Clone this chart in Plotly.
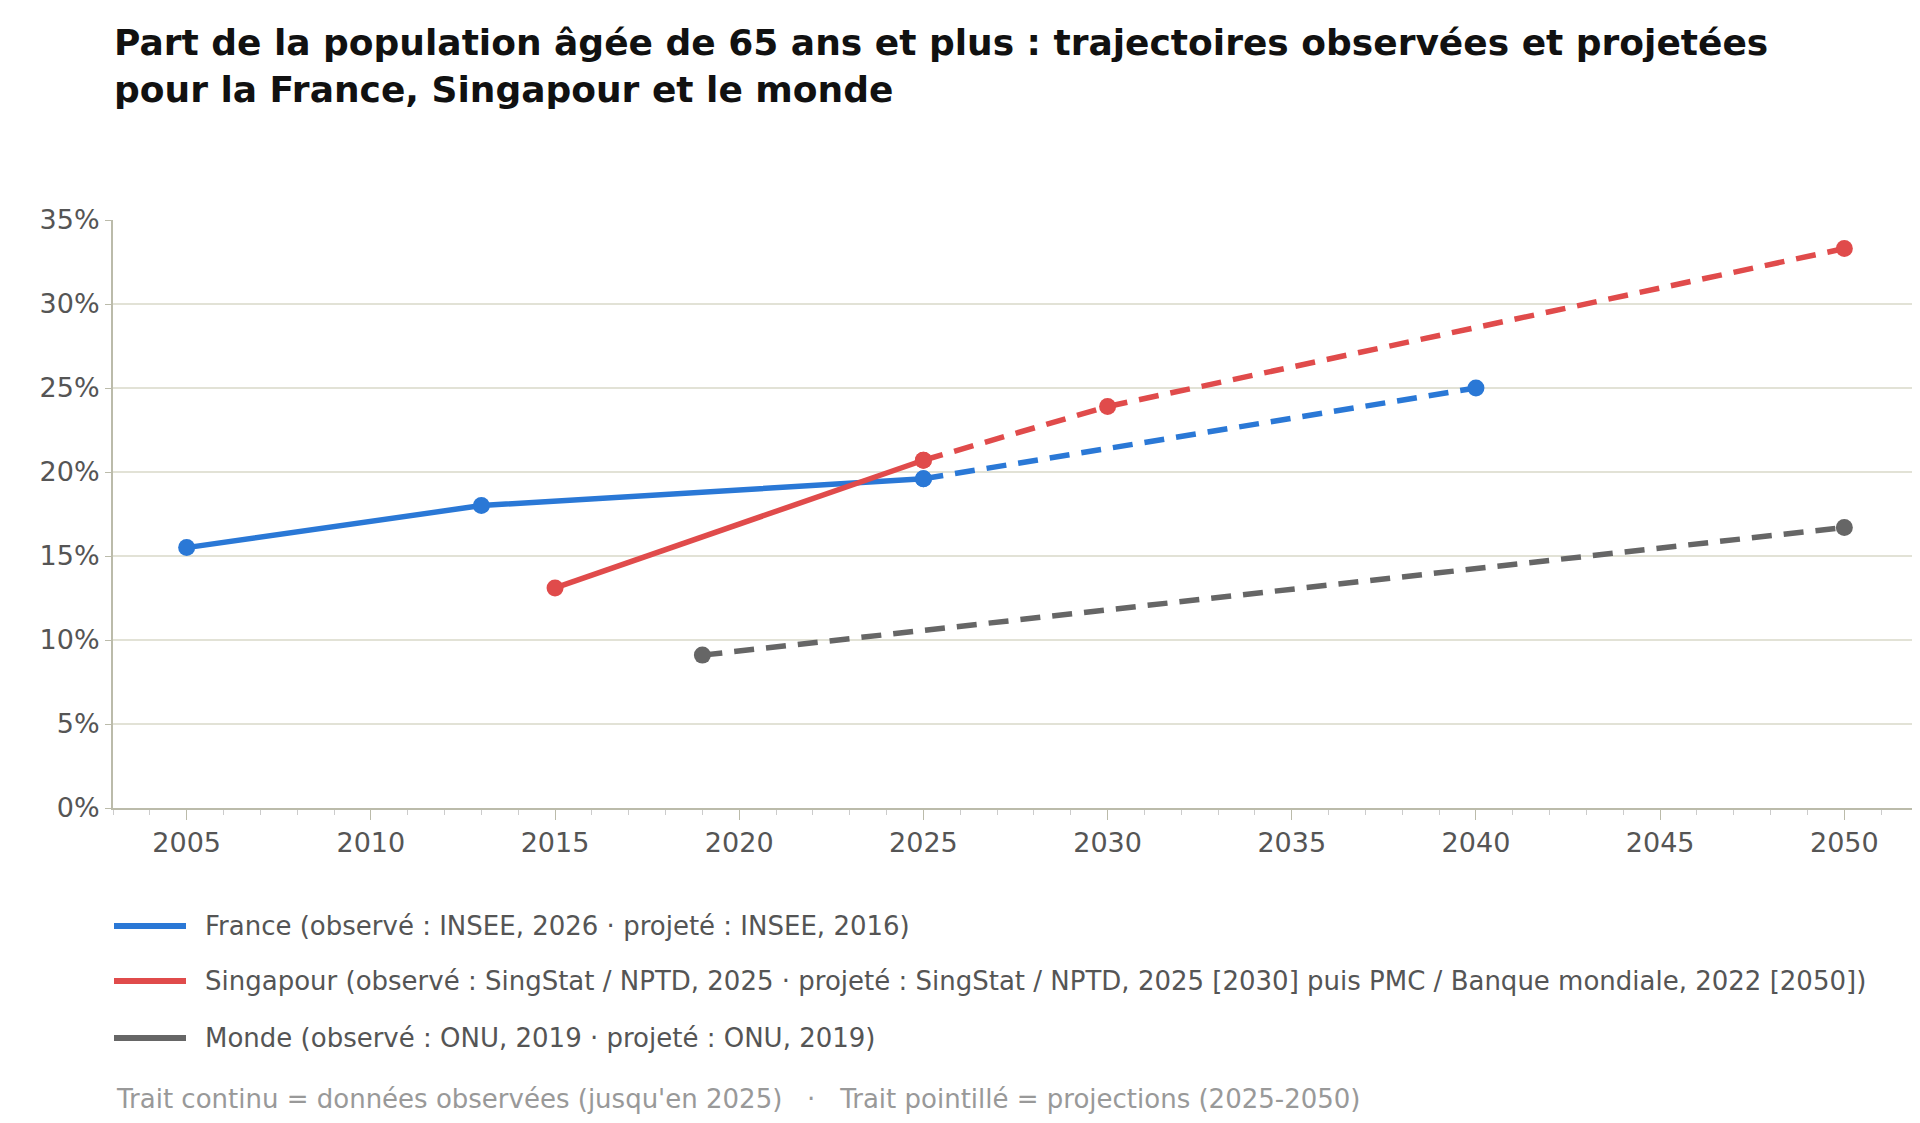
import plotly.graph_objects as go

fr_obs_x = [2005, 2013, 2025]; fr_obs_y = [15.5, 18.0, 19.6]
fr_proj_x = [2025, 2040]; fr_proj_y = [19.6, 25.0]
sg_obs_x = [2015, 2025]; sg_obs_y = [13.1, 20.7]
sg_proj_x = [2025, 2030, 2050]; sg_proj_y = [20.7, 23.9, 33.3]
wd_proj_x = [2019, 2050]; wd_proj_y = [9.1, 16.7]
names = ["France (observé : INSEE, 2026 · projeté : INSEE, 2016)",
         "Singapour (observé : SingStat / NPTD, 2025 · projeté : SingStat / NPTD, 2025 [2030] puis PMC / Banque mondiale, 2022 [2050])",
         "Monde (observé : ONU, 2019 · projeté : ONU, 2019)"]
colors = ["#2a78d6", "#e04b4b", "#666666"]

fig = go.Figure()
def add(x, y, c, dash):
    fig.add_trace(go.Scatter(x=x, y=y, mode="lines+markers", showlegend=False,
        line=dict(color=c, width=5.5, dash=dash), marker=dict(size=17, color=c)))
add(fr_obs_x, fr_obs_y, colors[0], "solid")
add(fr_proj_x, fr_proj_y, colors[0], "20px,12px")
add(sg_obs_x, sg_obs_y, colors[1], "solid")
add(sg_proj_x, sg_proj_y, colors[1], "20px,12px")
add(wd_proj_x, wd_proj_y, colors[2], "20px,12px")

W = 1920 - 105 - 10
H = 1123 - 212 - 323
def px(x): return (x - 105) / W
def py(y): return (800 - y) / H

for n, c, yy in zip(names, colors, [918, 973, 1030]):
    fig.add_shape(type="line", xref="paper", yref="paper", x0=px(106), x1=px(178), y0=py(yy), y1=py(yy),
                  line=dict(color=c, width=6))
    fig.add_annotation(text=n, xref="paper", yref="paper", x=px(195), y=py(yy), xanchor="left", yanchor="middle",
                       showarrow=False, font=dict(size=26, color="#555555"))
fig.add_annotation(text="Trait continu = données observées (jusqu'en 2025)   ·   Trait pointillé = projections (2025-2050)",
    xref="paper", yref="paper", x=px(106), xanchor="left", y=py(1091), yanchor="middle", showarrow=False,
    font=dict(size=26, color="#999999"))
fig.add_annotation(text="<b>Part de la population âgée de 65 ans et plus : trajectoires observées et projetées<br>pour la France, Singapour et le monde</b>",
    xref="paper", yref="paper", x=px(104), xanchor="left", y=py(12), yanchor="top", showarrow=False, align="left",
    font=dict(size=36, color="#111111"))

fig.update_layout(
    width=1920, height=1123, paper_bgcolor="white", plot_bgcolor="white",
    font=dict(family="DejaVu Sans", color="#555555", size=27),
    margin=dict(l=105, r=10, t=212, b=323), showlegend=False,
    xaxis=dict(range=[2003, 2052], tickvals=list(range(2005, 2051, 5)), showgrid=False,
               showline=True, linecolor="#bbbbaa", linewidth=2, ticks="outside", ticklen=10, tickcolor="#bbbbaa",
               minor=dict(dtick=1, ticks="outside", ticklen=5, tickcolor="#cccccc"), zeroline=False),
    yaxis=dict(range=[0, 35], dtick=5, ticksuffix="%", showgrid=True, gridcolor="#e2e2d6", gridwidth=2,
               showline=True, linecolor="#bbbbaa", linewidth=2, ticks="outside", ticklen=6, tickcolor="#bbbbaa", zeroline=False),
)
fig.write_html("out.html")
